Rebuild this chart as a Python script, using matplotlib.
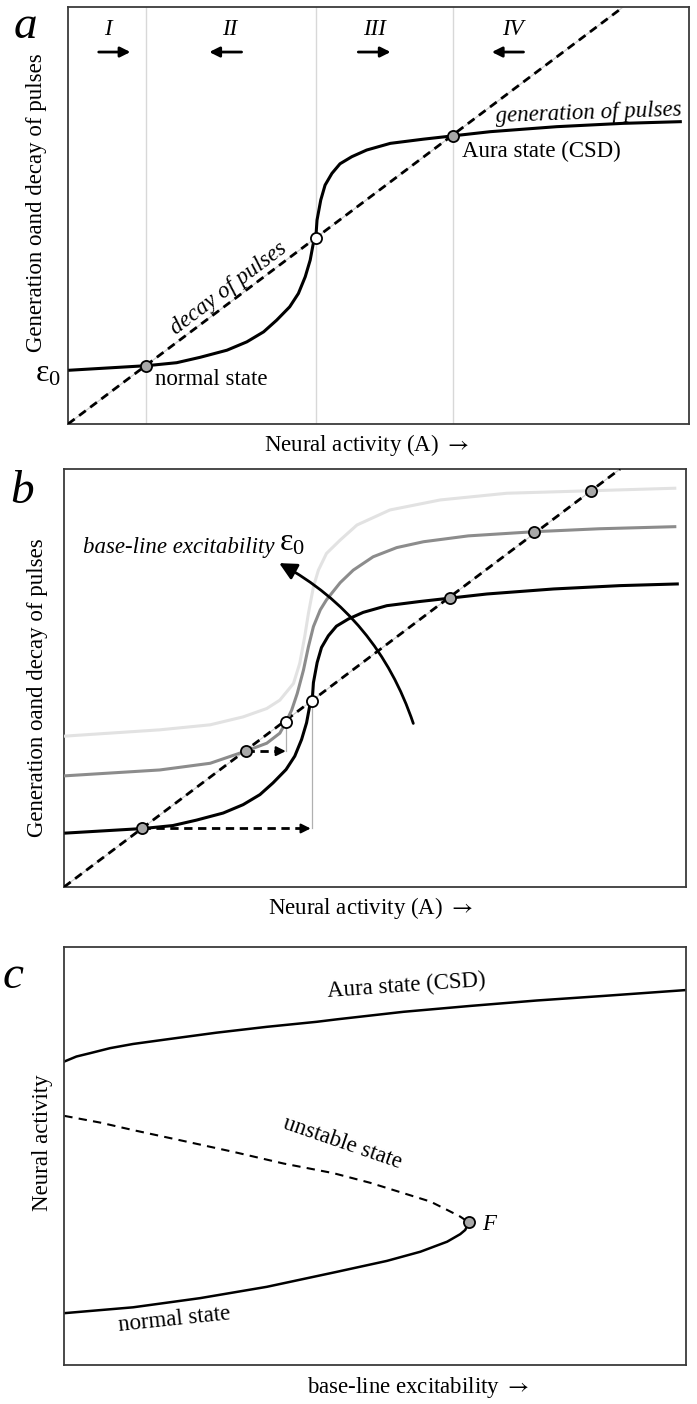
import numpy as np
import matplotlib
matplotlib.use("Agg")
import matplotlib.pyplot as plt
from matplotlib.patches import FancyArrowPatch

plt.rcParams['font.family'] = ['Liberation Serif', 'DejaVu Serif']
plt.rcParams['mathtext.fontset'] = 'stix'

# ---- values (axes units 0..100) ----
# generation of pulses at base excitability (black), panels a and b
gen_x = [0.3, 12.8, 17.5, 21.3, 25.6, 28.8, 31.5, 33.6, 35.7, 37.1, 38.2, 39.0, 39.5, 39.9,
         40.1, 40.7, 41.4, 42.5, 43.8, 45.7, 48.1, 51.9, 57.2, 62.0, 68.0, 78.7, 89.4, 98.6]
gen_y = [12.9, 14.0, 14.7, 16.0, 17.7, 19.7, 22.1, 24.9, 28.1, 31.3, 35.3, 39.3, 43.3, 44.5,
         48.9, 53.7, 57.3, 60.1, 62.4, 64.1, 65.7, 67.3, 68.3, 69.1, 70.1, 71.3, 72.1, 72.5]
# higher excitability (grey), panel b
gen_mid_x = [0.2, 15.4, 23.5, 29.2, 32.6, 34.7, 35.7, 36.6, 37.5, 38.5, 39.3, 40.1, 41.2, 42.2,
             44.4, 46.5, 49.7, 53.5, 57.8, 65.0, 75.6, 86.0, 98.2]
gen_mid_y = [26.6, 28.0, 29.6, 32.5, 34.4, 36.8, 39.5, 42.3, 46.3, 51.9, 57.5, 62.3, 66.3, 68.7,
             72.8, 75.8, 79.0, 81.2, 82.6, 84.0, 85.0, 85.7, 86.2]
# highest excitability (light grey), panel b
gen_hi_x = [0.2, 15.4, 23.5, 28.8, 32.6, 34.7, 36.9, 37.9, 38.7, 39.3, 40.1, 40.9, 42.2, 44.4,
            47.1, 52.4, 60.5, 71.2, 84.8, 98.2]
gen_hi_y = [36.1, 37.6, 38.8, 40.7, 42.7, 44.7, 48.7, 53.5, 59.9, 65.5, 71.8, 75.8, 79.8, 83.0,
            86.6, 90.2, 92.6, 94.2, 94.8, 95.4]
# decay of pulses (straight line through origin)
decay_x = [0, 89.4]
decay_y = [0, 100]
# fixed points
stable_a = [(12.6, 14.0), (62.0, 69.1)]
unstable_a = [(39.9, 44.5)]
stable_b = [(12.6, 14.0), (62.0, 69.1), (29.2, 32.5), (75.6, 85.0), (84.8, 94.8)]
unstable_b = [(39.9, 44.5), (35.7, 39.5)]
# jumps in panel b: (start x, end x, level)
jumps = [(12.6, 40.1, 14.0), (29.2, 36.1, 32.5)]
# regions in panel a
region_names = ['I', 'II', 'III', 'IV']
region_x = [6.4, 26.1, 49.4, 71.7]
region_arrows = [(4.5, 10.5), (28.4, 22.3), (46.3, 52.4), (73.8, 67.8)]
# panel c: bifurcation diagram
aura_x = [0.05, 2.0, 4.2, 7.4, 11.1, 16.5, 24.5, 32.6, 40.6, 43.9, 54.6, 65.3, 76.0, 86.8, 100]
aura_y = [72.6, 73.8, 74.6, 75.8, 76.8, 77.9, 79.5, 80.9, 82.1, 82.7, 84.5, 85.9, 87.2, 88.3, 89.7]
unst_x = [0.05, 5.8, 11.1, 19.2, 27.2, 35.3, 43.3, 49.2, 54.6, 58.9, 61.6, 63.7, 65.1]
unst_y = [59.6, 58.0, 56.2, 53.6, 51.0, 48.2, 45.9, 43.6, 41.1, 39.1, 37.1, 35.5, 34.1]
norm_x = [0.05, 11.1, 21.9, 32.6, 43.9, 51.9, 57.3, 61.6, 63.7, 64.5, 65.1]
norm_y = [12.4, 13.8, 16.0, 18.7, 22.3, 24.9, 27.1, 29.5, 31.3, 32.3, 34.1]
fold = (65.1, 34.1)

FS = 16.5
ylab = 'Generation oand decay of pulses'
arrow_txt = r' $\rightarrow$'

fig = plt.figure(figsize=(6.97, 14.04), dpi=100)
W, H = 697.0, 1404.0

def make_ax(l, r, t, b):
    ax = fig.add_axes([l / W, 1 - b / H, (r - l) / W, (b - t) / H])
    ax.set_xlim(0, 100)
    ax.set_ylim(0, 100)
    ax.set_xticks([])
    ax.set_yticks([])
    for s in ax.spines.values():
        s.set_color('#3a3a3a')
        s.set_linewidth(1.3)
    return ax

def decay_line(ax):
    ax.plot(decay_x, decay_y, color='#c8c8c8', lw=0.8, zorder=2)
    ax.plot(decay_x, decay_y, color='black', lw=2.0, ls=(0, (3, 2)), zorder=3)

def points(ax, pts, fc):
    for px, py in pts:
        ax.plot(px, py, 'o', ms=8, mfc=fc, mec='black', mew=1.3, zorder=6)

# ---------------- panel a ----------------
ax = make_ax(68, 689, 7, 424)
for px, _ in stable_a + unstable_a:
    ax.axvline(px, color='#d8d8d8', lw=1.0, zorder=1)
decay_line(ax)
ax.plot(gen_x, gen_y, color='black', lw=2.2, zorder=4, solid_joinstyle='round')
points(ax, stable_a, '#a8a8a8')
points(ax, unstable_a, 'white')
for name, rx, (x0, x1) in zip(region_names, region_x, region_arrows):
    ax.text(rx, 94.7, name, fontsize=FS, style='italic', ha='center', va='center')
    ax.annotate('', xy=(x1, 89.2), xytext=(x0, 89.2),
                arrowprops=dict(arrowstyle='-|>', lw=2.0, color='black', mutation_scale=15))
ax.text(25.8, 32.6, 'decay of pulses', fontsize=FS, style='italic', rotation=37,
        rotation_mode='anchor', ha='center', va='center')
ax.text(68.8, 74.6, 'generation of pulses', fontsize=FS, style='italic', rotation=2,
        ha='left', va='center')
ax.text(63.4, 65.3, 'Aura state (CSD)', fontsize=FS, ha='left', va='center')
ax.text(14.0, 10.6, 'normal state', fontsize=FS, ha='left', va='center')
ax.text(-0.032, 0.12, r'$\mathregular{ε_0}$', fontsize=23, ha='center', va='center',
        transform=ax.transAxes)
ax.text(-0.05, 0.532, ylab, fontsize=FS, rotation=90, ha='center', va='center',
        transform=ax.transAxes)
ax.text(0.481, -0.05, 'Neural activity (A)' + arrow_txt, fontsize=FS, ha='center', va='center',
        transform=ax.transAxes)
fig.text(25 / W, 1 - 27 / H, 'a', fontsize=34, style='italic', ha='center', va='center')

# ---------------- panel b ----------------
ax = make_ax(64, 686, 469, 887)
decay_line(ax)
ax.plot(gen_hi_x, gen_hi_y, color='#e2e2e2', lw=2.2, zorder=4, solid_joinstyle='round')
ax.plot(gen_mid_x, gen_mid_y, color='#8c8c8c', lw=2.2, zorder=4, solid_joinstyle='round')
ax.plot(gen_x, gen_y, color='black', lw=2.2, zorder=4, solid_joinstyle='round')
for (x0, x1, yy), (ux, uy) in zip(jumps, unstable_b):
    ax.plot([ux, ux], [yy, uy], color='#b0b0b0', lw=0.9, zorder=2)
    ax.plot([x0, x1 - 1.5], [yy, yy], color='black', lw=2.0, ls=(0, (3, 2)), zorder=3)
    ax.annotate('', xy=(x1, yy), xytext=(x1 - 2.0, yy),
                arrowprops=dict(arrowstyle='-|>', lw=1.5, color='black', mutation_scale=14))
points(ax, stable_b, '#a8a8a8')
points(ax, unstable_b, 'white')
arc = FancyArrowPatch((56.3, 38.5), (34.2, 77.8), connectionstyle='arc3,rad=0.2',
                      arrowstyle='-|>', mutation_scale=26, lw=2.0, color='black', zorder=5)
ax.add_patch(arc)
ax.text(0.031, 0.813, 'base-line excitability', fontsize=FS, style='italic',
        ha='left', va='center', transform=ax.transAxes)
ax.text(0.367, 0.822, r'$\mathregular{ε_0}$', fontsize=23, ha='center', va='center',
        transform=ax.transAxes)
ax.text(-0.043, 0.476, ylab, fontsize=FS, rotation=90, ha='center', va='center',
        transform=ax.transAxes)
ax.text(0.492, -0.05, 'Neural activity (A)' + arrow_txt, fontsize=FS, ha='center', va='center',
        transform=ax.transAxes)
fig.text(22 / W, 1 - 492 / H, 'b', fontsize=34, style='italic', ha='center', va='center')

# ---------------- panel c ----------------
ax = make_ax(64, 686, 947, 1365)
ax.plot(aura_x, aura_y, color='black', lw=1.8, solid_joinstyle='round')
ax.plot(norm_x, norm_y, color='black', lw=1.8, solid_joinstyle='round')
ax.plot(unst_x, unst_y, color='black', lw=1.5, ls=(0, (4, 3)))
points(ax, [fold], '#a8a8a8')
ax.text(0.551, 0.907, 'Aura state (CSD)', fontsize=FS, rotation=4,
        ha='center', va='center', transform=ax.transAxes)
ax.text(0.447, 0.531, 'unstable state', fontsize=FS, rotation=-19,
        ha='center', va='center', transform=ax.transAxes)
ax.text(0.178, 0.108, 'normal state', fontsize=FS, rotation=6,
        ha='center', va='center', transform=ax.transAxes)
ax.text(0.683, 0.335, 'F', fontsize=FS, style='italic', ha='center', va='center',
        transform=ax.transAxes)
ax.text(-0.034, 0.531, 'Neural activity', fontsize=FS, rotation=90, ha='center', va='center',
        transform=ax.transAxes)
ax.text(0.569, -0.053, 'base-line excitability' + arrow_txt, fontsize=FS, ha='center',
        va='center', transform=ax.transAxes)
fig.text(13 / W, 1 - 977 / H, 'c', fontsize=34, style='italic', ha='center', va='center')

fig.savefig('out.png', dpi=100)
